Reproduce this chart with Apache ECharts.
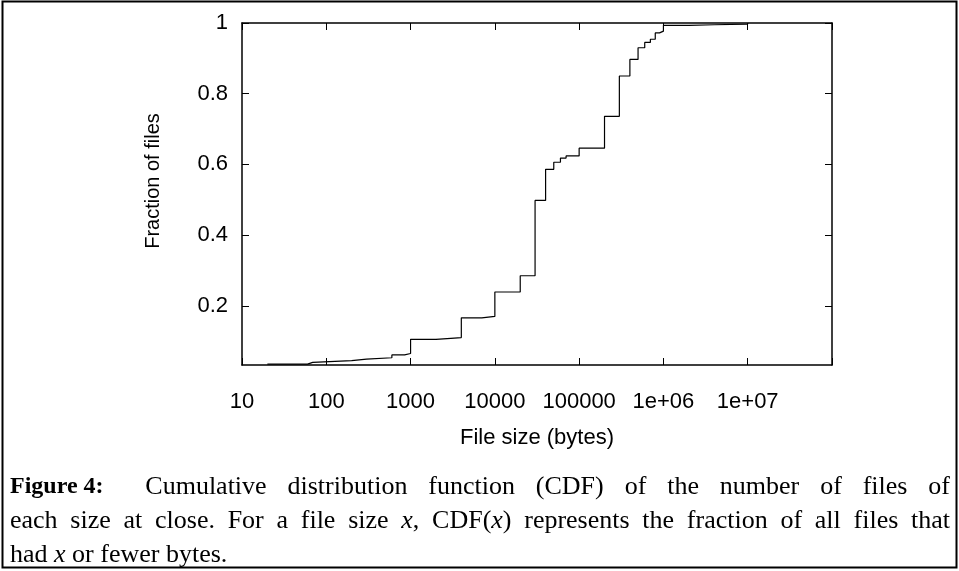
<!DOCTYPE html>
<html>
<head>
<meta charset="utf-8">
<script src="https://cdn.jsdelivr.net/npm/echarts@6/dist/echarts.min.js"></script>
<style>
html, body { margin: 0; padding: 0; background: #fff; }
#chart { width: 959px; height: 571px; }
</style>
</head>
<body>
<div id="chart"></div>
<script>
// file size (bytes) at which the CDF steps up, and the CDF value after the step
var fileSizes = [20, 60, 69, 200, 300, 600, 850, 1000, 2000, 3000, 4000, 7000, 10000, 20000, 30000,
  40000, 50000, 60000, 70000, 100000, 200000, 300000, 400000, 500000, 600000, 700000, 800000,
  900000, 1000000, 2000000, 4000000, 10000000]
var fractions = [0.035, 0.040, 0.045, 0.049, 0.053, 0.061, 0.065, 0.105, 0.108, 0.110, 0.166, 0.170,
  0.239, 0.285, 0.498, 0.586, 0.606, 0.618, 0.624, 0.646, 0.736, 0.850, 0.897, 0.930, 0.945, 0.954,
  0.972, 0.977, 0.9935, 0.995, 0.997, 1.0]
var yTicks = [0.2, 0.4, 0.6, 0.8, 1]
// caption: '*' = bold word, _x_ = italic run, '~' = fixed space, empty word = extra space
var captionLines = [
  '*Figure~4:  Cumulative distribution function (CDF) of the number of files of',
  'each size at close. For a file size _x_, CDF(_x_) represents the fraction of all files that',
  'had _x_ or fewer bytes.'
]

var sansFont = 'Liberation Sans'
var serifFont = 'Liberation Serif'
var capSize = 26
var capBoldSize = 24

function xLabel (v) {
  if (v >= 1e8) return ''
  if (v >= 1e6) {
    var e = Math.round(Math.log10(v))
    return '1e+' + (e < 10 ? '0' + e : e)
  }
  return String(Math.round(v))
}

// build caption text pieces (justified like the LaTeX caption)
var ctx = document.createElement('canvas').getContext('2d')
function runSize (r) {
  return r.b ? capBoldSize : capSize
}
function runFont (r) {
  return (r.i ? 'italic ' : '') + (r.b ? 'bold ' : '') + runSize(r) + 'px "' + serifFont + '"'
}
function parseWord (w) {
  var bold = false
  if (w.charAt(0) === '*') { bold = true; w = w.slice(1) }
  var parts = w.replace(/~/g, ' ').split('_')
  var runs = []
  parts.forEach(function (p, k) {
    if (p !== '') runs.push({t: p, b: bold, i: k % 2 === 1})
  })
  return runs
}
var captionGraphics = []
var capLeft = 10
var capRight = 950
var capY = [487, 521, 555]
captionLines.forEach(function (line, li) {
  var words = line.split(' ').map(parseWord)
  var widths = words.map(function (runs) {
    return runs.reduce(function (s, r) { ctx.font = runFont(r); return s + ctx.measureText(r.t).width }, 0)
  })
  var total = widths.reduce(function (a, b) { return a + b }, 0)
  ctx.font = runFont({})
  var gap = ctx.measureText(' ').width
  if (li < captionLines.length - 1) gap = (capRight - capLeft - total) / (words.length - 1)
  var x = capLeft
  words.forEach(function (runs, wi) {
    runs.forEach(function (r) {
      ctx.font = runFont(r)
      captionGraphics.push({
        type: 'text',
        x: x,
        y: capY[li],
        style: {
          text: r.t,
          fontFamily: serifFont,
          fontSize: runSize(r),
          fontWeight: r.b ? 'bold' : 'normal',
          fontStyle: r.i ? 'italic' : 'normal',
          fill: '#000',
          align: 'left',
          verticalAlign: 'middle'
        }
      })
      x += ctx.measureText(r.t).width
    })
    x += gap
  })
})

var myChart = echarts.init(document.getElementById('chart'), null, {renderer: 'canvas'})
var axisLine = {show: true, onZero: false, lineStyle: {color: '#000', width: 1.5}}
myChart.setOption({
  animation: false,
  backgroundColor: '#fff',
  grid: {left: 242, top: 23, width: 590, height: 342, containLabel: false},
  xAxis: [{
    type: 'log',
    logBase: 10,
    min: 10,
    max: 1e8,
    position: 'bottom',
    axisLine: axisLine,
    axisTick: {inside: true, length: 7, lineStyle: {color: '#000'}},
    axisLabel: {formatter: xLabel, margin: 26, color: '#000', fontSize: 22, fontFamily: sansFont},
    splitLine: {show: false},
    minorTick: {show: false},
    name: 'File size (bytes)',
    nameLocation: 'middle',
    nameGap: 62,
    nameTextStyle: {color: '#000', fontSize: 22, fontFamily: sansFont}
  }, {
    type: 'log',
    logBase: 10,
    min: 10,
    max: 1e8,
    position: 'top',
    axisLine: axisLine,
    axisTick: {inside: true, length: 7, lineStyle: {color: '#000'}},
    axisLabel: {show: false},
    splitLine: {show: false}
  }],
  yAxis: [{
    type: 'value',
    min: 0.0325,
    max: 1,
    position: 'left',
    axisLine: axisLine,
    axisTick: {inside: true, length: 7, customValues: yTicks, lineStyle: {color: '#000'}},
    axisLabel: {customValues: yTicks, margin: 14, color: '#000', fontSize: 22, fontFamily: sansFont},
    splitLine: {show: false},
    name: 'Fraction of files',
    nameLocation: 'middle',
    nameRotate: 90,
    nameGap: 79,
    nameTextStyle: {color: '#000', fontSize: 20, fontFamily: sansFont, padding: [0, 0, 0, 26]}
  }, {
    type: 'value',
    min: 0.0325,
    max: 1,
    position: 'right',
    axisLine: axisLine,
    axisTick: {inside: true, length: 7, customValues: yTicks, lineStyle: {color: '#000'}},
    axisLabel: {show: false},
    splitLine: {show: false}
  }],
  series: [{
    type: 'line',
    xAxisIndex: 0,
    yAxisIndex: 0,
    step: 'end',
    showSymbol: false,
    data: fileSizes.map(function (s, i) { return [s, fractions[i]] }),
    lineStyle: {color: '#000', width: 1.2}
  }],
  graphic: [{
    type: 'rect',
    shape: {x: 2.5, y: 1.5, width: 954, height: 566},
    style: {fill: 'none', stroke: '#000', lineWidth: 2}
  }].concat(captionGraphics)
})
</script>
</body>
</html>
